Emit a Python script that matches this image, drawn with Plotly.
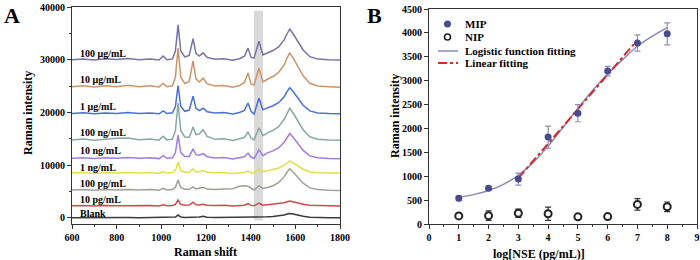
import plotly.graph_objects as go

# ---------------- Panel A data (Raman spectra, offset-stacked as in the figure) ----------------
wavenumber = [600, 650, 700, 750, 800, 850, 900, 950, 990, 1008, 1025, 1050, 1063, 1075, 1087,
              1105, 1125, 1142, 1155, 1170, 1187, 1205, 1240, 1280, 1320, 1350, 1372, 1388, 1402,
              1415, 1437, 1455, 1475, 1500, 1525, 1550, 1563, 1575, 1590, 1610, 1635, 1665, 1700,
              1750, 1800]

spec_100ug = [30000, 30150, 29950, 30200, 30050, 30250, 30000, 30150, 29950, 30700, 30000, 30150,
              31650, 36600, 31650, 30530, 30800, 34000, 31200, 30700, 31300, 30450, 30100, 30200,
              29900, 30200, 30660, 32200, 30440, 30300, 33500, 30900, 31280, 31740, 32440, 33770,
              34930, 35800, 34930, 33480, 31860, 30580, 30120, 30000, 29950]
spec_10ug = [24900, 25050, 24850, 25050, 24900, 25150, 24900, 25050, 24850, 25500, 24900, 25050,
             26725, 32200, 26725, 25484, 25880, 29800, 26370, 25780, 26500, 25460, 25000, 25100,
             24800, 25100, 25680, 27500, 25420, 25200, 28400, 25800, 26300, 26820, 27590, 29060,
             30340, 31300, 30340, 28740, 26950, 25540, 25030, 24900, 24800]
spec_1ug = [19800, 19950, 19750, 19900, 19800, 20000, 19800, 19900, 19750, 20300, 19800, 19950,
            21125, 25100, 21125, 20224, 20460, 23100, 20790, 20350, 20800, 20150, 19900, 20000,
            19700, 20000, 20400, 21800, 20200, 19700, 22700, 20500, 20880, 21270, 21860, 22985,
            23965, 24700, 23965, 22740, 21370, 20290, 19900, 19800, 19750]
spec_100ng = [14800, 14950, 14750, 14950, 15100, 15150, 14850, 14950, 14750, 15500, 14800, 14950,
              16550, 21800, 16550, 15360, 15290, 17250, 15800, 15900, 16700, 15465, 14900, 15000,
              14700, 15000, 15250, 16300, 15100, 14800, 17060, 15600, 16120, 16600, 17320, 18700,
              19900, 20800, 19900, 18400, 16720, 15400, 14920, 14800, 14750]
spec_10ng = [11300, 11400, 11250, 11400, 11300, 11450, 11300, 11400, 11250, 11800, 11300, 11400,
             12400, 15700, 12400, 11652, 11660, 13100, 12000, 11900, 12200, 11615, 11350, 11450,
             11200, 11450, 11600, 12300, 11500, 11300, 12900, 11800, 12334, 12710, 13274, 14355,
             15295, 16000, 15295, 14120, 12804, 11770, 11400, 11250, 11200]
spec_1ng = [8500, 8600, 8450, 8600, 8500, 8600, 8500, 8600, 8450, 8800, 8500, 8600,
            9025, 10600, 9025, 8670, 8660, 9300, 8740, 8775, 9000, 8675, 8550, 8600,
            8450, 8600, 8620, 8900, 8580, 8500, 9300, 8750, 9006, 9190, 9466, 9995,
            10455, 10800, 10455, 9880, 9236, 8730, 8550, 8500, 8500]
spec_100pg = [5300, 5400, 5250, 5400, 5300, 5400, 5300, 5400, 5250, 5600, 5300, 5400,
              5775, 7200, 5775, 5452, 5420, 5900, 5480, 5575, 5800, 5475, 5400, 5500,
              5550, 6000, 6100, 6000, 5600, 5300, 6100, 5600, 5780, 6100, 6700, 7780,
              8700, 9300, 8700, 7700, 6580, 5700, 5380, 5250, 5200]
spec_10pg = [2300, 2350, 2250, 2350, 2300, 2350, 2300, 2350, 2250, 2500, 2300, 2350,
             2575, 3400, 2575, 2388, 2440, 3000, 2510, 2465, 2600, 2405, 2350, 2400,
             2250, 2350, 2420, 2700, 2380, 2300, 2800, 2400, 2498, 2570, 2678, 2885,
             3065, 3200, 3065, 2840, 2588, 2390, 2320, 2300, 2280]
spec_blank = [50, 80, 40, 80, 50, 80, 50, 80, 40, 150, 50, 80,
              175, 550, 175, 90, 80, 200, 100, 180, 300, 140, 100, 120,
              80, 120, 120, 180, 100, 80, 150, 120, 226, 290, 386, 570,
              730, 850, 730, 530, 306, 130, 66, 50, 40]

spectrum_names = ["100 μg/mL", "10 μg/mL", "1 μg/mL", "100 ng/mL", "10 ng/mL",
                  "1 ng/mL", "100 pg/mL", "10 pg/mL", "Blank"]
spectrum_label_y = [31220, 26160, 21100, 16170, 12700, 9600, 6450, 3540, 890]
spectrum_label_x = 627
highlight_band = [1415, 1455]

# ---------------- Panel B data ----------------
log_nse = [1, 2, 3, 4, 5, 6, 7, 8]
mip = [540, 750, 940, 1820, 2320, 3200, 3790, 3980]
mip_err = [50, 40, 125, 230, 180, 100, 170, 230]
nip = [170, 175, 225, 215, 150, 155, 410, 360]
nip_err = [25, 100, 85, 140, 20, 20, 120, 100]
logistic_x = [1, 1.5, 2, 2.5, 3, 3.5, 4, 4.5, 5, 5.5, 6, 6.5, 7, 7.5, 8]
logistic_y = [565, 615, 700, 830, 1020, 1290, 1630, 2020, 2420, 2800, 3140, 3440, 3720, 3930, 4110]
linear_x = [3, 7]
linear_y = [960, 3850]

# ---------------- styling ----------------
W, H = 700, 260
SERIF = "Liberation Serif"
spec_colors = ["#7672a8", "#c9956b", "#4b6fd6", "#87a9a1", "#a17ce0",
               "#e2df48", "#a39e96", "#d14a4a", "#3a3a3a"]
spectra = [spec_100ug, spec_10ug, spec_1ug, spec_100ng, spec_10ng,
           spec_1ng, spec_100pg, spec_10pg, spec_blank]


def px(x):
    return x / W


def py(y):
    return 1 - y / H


fig = go.Figure()

# spectra (draw bottom first so top ones overlay)
for name, ys, col in reversed(list(zip(spectrum_names, spectra, spec_colors))):
    fig.add_trace(go.Scatter(x=wavenumber, y=ys, mode="lines", name=name,
                             line=dict(color=col, width=1.5), xaxis="x", yaxis="y",
                             showlegend=False, hoverinfo="skip"))

# panel B traces
fig.add_trace(go.Scatter(x=logistic_x, y=logistic_y, mode="lines", line=dict(color="#8787bd", width=1.5, shape="spline"),
                         xaxis="x2", yaxis="y2", showlegend=False))
fig.add_trace(go.Scatter(x=linear_x, y=linear_y, mode="lines", line=dict(color="#d42a2a", width=2, dash="dashdot"),
                         xaxis="x2", yaxis="y2", showlegend=False))
fig.add_trace(go.Scatter(x=log_nse, y=mip, mode="markers",
                         marker=dict(color="#4a4a8e", size=7, line=dict(width=0)),
                         error_y=dict(type="data", array=mip_err, color="#8e8ebd", thickness=1.2, width=3),
                         xaxis="x2", yaxis="y2", showlegend=False))
fig.add_trace(go.Scatter(x=log_nse, y=nip, mode="markers",
                         marker=dict(color="white", size=7, symbol="circle", line=dict(color="#222", width=2)),
                         error_y=dict(type="data", array=nip_err, color="#333", thickness=1.2, width=3),
                         xaxis="x2", yaxis="y2", showlegend=False))

tickfont = dict(family=SERIF, size=10, color="black", weight="bold")
axis_common = dict(showgrid=False, zeroline=False, showline=True, linecolor="#333", linewidth=1,
                   mirror=True, ticks="outside", ticklen=4, tickwidth=1, tickcolor="#333",
                   tickfont=tickfont, automargin=False, tickformat="d")

fig.update_layout(
    width=W, height=H, margin=dict(l=0, r=0, t=0, b=0, pad=0, autoexpand=False),
    paper_bgcolor="white", plot_bgcolor="white",
    xaxis=dict(domain=[px(72), px(340)], range=[600, 1800], dtick=200, anchor="y",
               minor=dict(ticks="outside", ticklen=2, dtick=100, tickcolor="#333"), **axis_common),
    yaxis=dict(domain=[py(224), py(7)], range=[-1150, 40000], dtick=10000, anchor="x",
               minor=dict(ticks="outside", ticklen=2, dtick=5000, tickcolor="#333"), **axis_common),
    xaxis2=dict(domain=[px(429), px(697)], range=[0, 9], dtick=1, anchor="y2",
                minor=dict(ticks="outside", ticklen=2, dtick=0.5, tickcolor="#333"), **axis_common),
    yaxis2=dict(domain=[py(224), py(9)], range=[0, 4500], dtick=500, anchor="x2", **axis_common),
)

# highlight band in panel A
fig.add_shape(type="rect", xref="x", yref="y", x0=highlight_band[0], x1=highlight_band[1],
              y0=-500, y1=39300, fillcolor="#d9d9d9", line=dict(width=0), layer="below")

ann_font = dict(family=SERIF, size=10, color="black", weight="bold")
for name, ly in zip(spectrum_names, spectrum_label_y):
    fig.add_annotation(x=spectrum_label_x, y=ly, xref="x", yref="y", text=name, showarrow=False,
                       xanchor="left", yanchor="middle", font=ann_font)


def paper_text(x, y, text, font, angle=0):
    fig.add_annotation(x=px(x), y=py(y), xref="paper", yref="paper", text=text, showarrow=False,
                       xanchor="center", yanchor="middle", textangle=angle, font=font)


title_font = dict(family=SERIF, size=12, color="black", weight="bold")
paper_text(206, 252, "Raman shift", title_font)
paper_text(28, 113, "Raman intensity", title_font, -90)
paper_text(539, 254, "log[NSE (pg/mL)]", title_font)
paper_text(395, 116, "Raman intensity", title_font, -90)

panel_font = dict(family=SERIF, size=22, color="black", weight="bold")
paper_text(12, 15, "A", panel_font)
paper_text(374, 15, "B", panel_font)

# manual legend for panel B
leg_font = dict(family=SERIF, size=11, color="black", weight="bold")
leg_rows = [("MIP", 24), ("NIP", 37), ("Logistic function fitting", 51), ("Linear fitting", 63)]
for text, yy in leg_rows:
    fig.add_annotation(x=px(463), y=py(yy), xref="paper", yref="paper", text=text, showarrow=False,
                       xanchor="left", yanchor="middle", font=leg_font)
fig.add_shape(type="circle", xref="paper", yref="paper", x0=px(444), x1=px(451), y0=py(27.5), y1=py(20.5),
              fillcolor="#4a4a8e", line=dict(width=0))
fig.add_shape(type="circle", xref="paper", yref="paper", x0=px(444.5), x1=px(450.5), y0=py(40), y1=py(34),
              fillcolor="white", line=dict(color="#222", width=1.6))
fig.add_shape(type="line", xref="paper", yref="paper", x0=px(438), x1=px(458), y0=py(51), y1=py(51),
              line=dict(color="#8787bd", width=1.5))
fig.add_shape(type="line", xref="paper", yref="paper", x0=px(438), x1=px(458), y0=py(63), y1=py(63),
              line=dict(color="#d42a2a", width=2, dash="dashdot"))

fig.write_html("out.html", config={"displayModeBar": False, "staticPlot": True},
               post_script="document.body.style.margin='0';document.body.style.padding='0';"
                           "document.body.style.overflow='hidden';")
